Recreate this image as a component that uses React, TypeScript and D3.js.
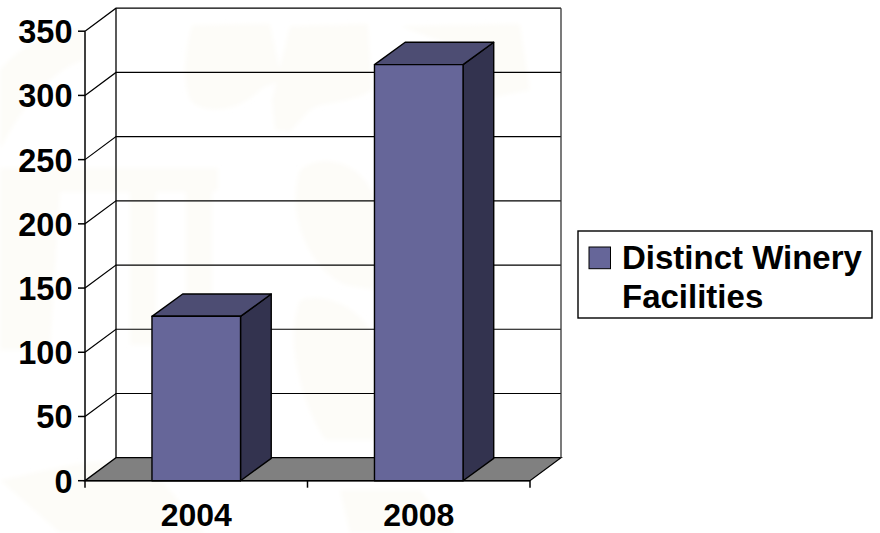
import * as d3 from 'd3';

const years = ['2004', '2008'];
const facilities = [128, 324];
const yTicks = [0, 50, 100, 150, 200, 250, 300, 350];
const legendLines = ['Distinct Winery', 'Facilities'];

const width = 880;
const height = 533;
const left = 85;
const right = 530;
const bottom = 480.7;
const top = 31.2;
const wallDx = 31;
const wallDy = -23;
const barDx = 30.7;
const barDy = -22.3;
const font = '"Liberation Sans", Arial, sans-serif';

const x = d3.scaleBand<string>().domain(years).range([left, right]).paddingInner(0.602).paddingOuter(0.301);
const y = d3.scaleLinear().domain([0, 350]).range([bottom, top]);

const poly = (pts: [number, number][]) => d3.line()(pts) + 'Z';

// faint cream watermark behind the chart, leaves and a column
const watermark = [
  'M192 25 L270 24 L282 80 L262 88 C240 112 205 116 190 100 C182 80 185 50 192 25 Z',
  'M290 26 L368 24 L372 90 C350 105 320 100 308 112 L290 132 L275 130 L272 100 Z',
  'M400 26 L520 24 L530 90 L480 100 L490 60 Z',
  'M300 170 C325 150 365 165 375 200 L375 290 L345 285 C310 270 285 215 300 170 Z',
  'M300 300 C325 290 365 310 375 340 L375 440 L325 440 C300 400 285 340 300 300 Z',
  'M0 168 L218 168 L218 190 L212 192 L212 345 L186 345 L186 192 L156 192 L156 345 L130 345 L130 192 L60 192 L50 350 L0 350 Z',
  'M0 70 C25 40 60 28 84 30 L84 60 C50 70 20 110 0 150 Z',
  'M0 480 C60 470 120 440 170 490 L205 533 L60 533 Z',
  'M340 490 L420 490 L455 533 L350 533 Z',
];

export default function App() {
  const bars = years.map((yr, i) => ({
    x0: x(yr)!,
    x1: x(yr)! + x.bandwidth(),
    yt: y(facilities[i]),
  }));

  return (
    <svg
      width={width}
      height={height}
      style={{ position: 'absolute', left: 0, top: 0, background: '#fff' }}
      fontFamily={font}
      fontWeight="bold"
    >
      <defs>
        <filter id="soft">
          <feGaussianBlur stdDeviation="2" />
        </filter>
      </defs>
      <g fill="#fdfcf8" filter="url(#soft)">
        {watermark.map((d, i) => (
          <path key={i} d={d} />
        ))}
      </g>

      {/* floor */}
      <path
        d={poly([
          [left, bottom],
          [right, bottom],
          [right + wallDx, bottom + wallDy],
          [left + wallDx, bottom + wallDy],
        ])}
        fill="#808080"
        stroke="#000"
        strokeWidth={1.3}
      />

      {/* back wall and grid */}
      <g stroke="#000" fill="none">
        {yTicks.slice(1).map((t) => (
          <path
            key={t}
            strokeWidth={1.2}
            d={`M${left},${y(t)}L${left + wallDx},${y(t) + wallDy}H${right + wallDx}`}
          />
        ))}
        <path strokeWidth={1.3} d={`M${left + wallDx},${top + wallDy}V${bottom + wallDy}`} />
        <path strokeWidth={1.3} stroke="#333" d={`M${right + wallDx},${top + wallDy}V${bottom + wallDy}`} />
      </g>

      {/* bars */}
      {bars.map((b, i) => (
        <g key={years[i]} stroke="#000" strokeWidth={1.4} strokeLinejoin="round">
          <path
            d={poly([
              [b.x1, b.yt],
              [b.x1 + barDx, b.yt + barDy],
              [b.x1 + barDx, bottom + barDy],
              [b.x1, bottom],
            ])}
            fill="#33334f"
          />
          <path
            d={poly([
              [b.x0, b.yt],
              [b.x0 + barDx, b.yt + barDy],
              [b.x1 + barDx, b.yt + barDy],
              [b.x1, b.yt],
            ])}
            fill="#4d4d73"
          />
          <rect x={b.x0} y={b.yt} width={b.x1 - b.x0} height={bottom - b.yt} fill="#666699" />
        </g>
      ))}

      {/* front axes */}
      <g stroke="#000" fill="none" strokeWidth={1.5}>
        <path d={`M${left},${top}V${bottom + 7}`} />
        <path d={`M${left},${bottom}H${right}`} />
        <path d={`M${right},${bottom}V${bottom + 7}`} />
        <path d={`M${(left + right) / 2},${bottom}V${bottom + 7}`} />
        {yTicks.map((t) => (
          <path key={t} d={`M${left - 7},${y(t)}H${left}`} />
        ))}
      </g>

      {/* tick labels */}
      <g fontSize={32.5} textAnchor="end" fill="#000">
        {yTicks.map((t) => (
          <text key={t} x={72.5} y={y(t) + 12}>
            {t}
          </text>
        ))}
      </g>
      <g fontSize={32} textAnchor="middle" fill="#000">
        {years.map((yr) => (
          <text key={yr} x={x(yr)! + x.bandwidth() / 2} y={526}>
            {yr}
          </text>
        ))}
      </g>

      {/* legend */}
      <rect x={578} y={231} width={294} height={87} fill="#fff" stroke="#000" strokeWidth={1.4} />
      <rect x={589} y={247} width={21.5} height={21.7} fill="#666699" stroke="#000" strokeWidth={1} />
      <g fontSize={33} fill="#000">
        {legendLines.map((l, i) => (
          <text key={l} x={622} y={269 + i * 39}>
            {l}
          </text>
        ))}
      </g>
    </svg>
  );
}
